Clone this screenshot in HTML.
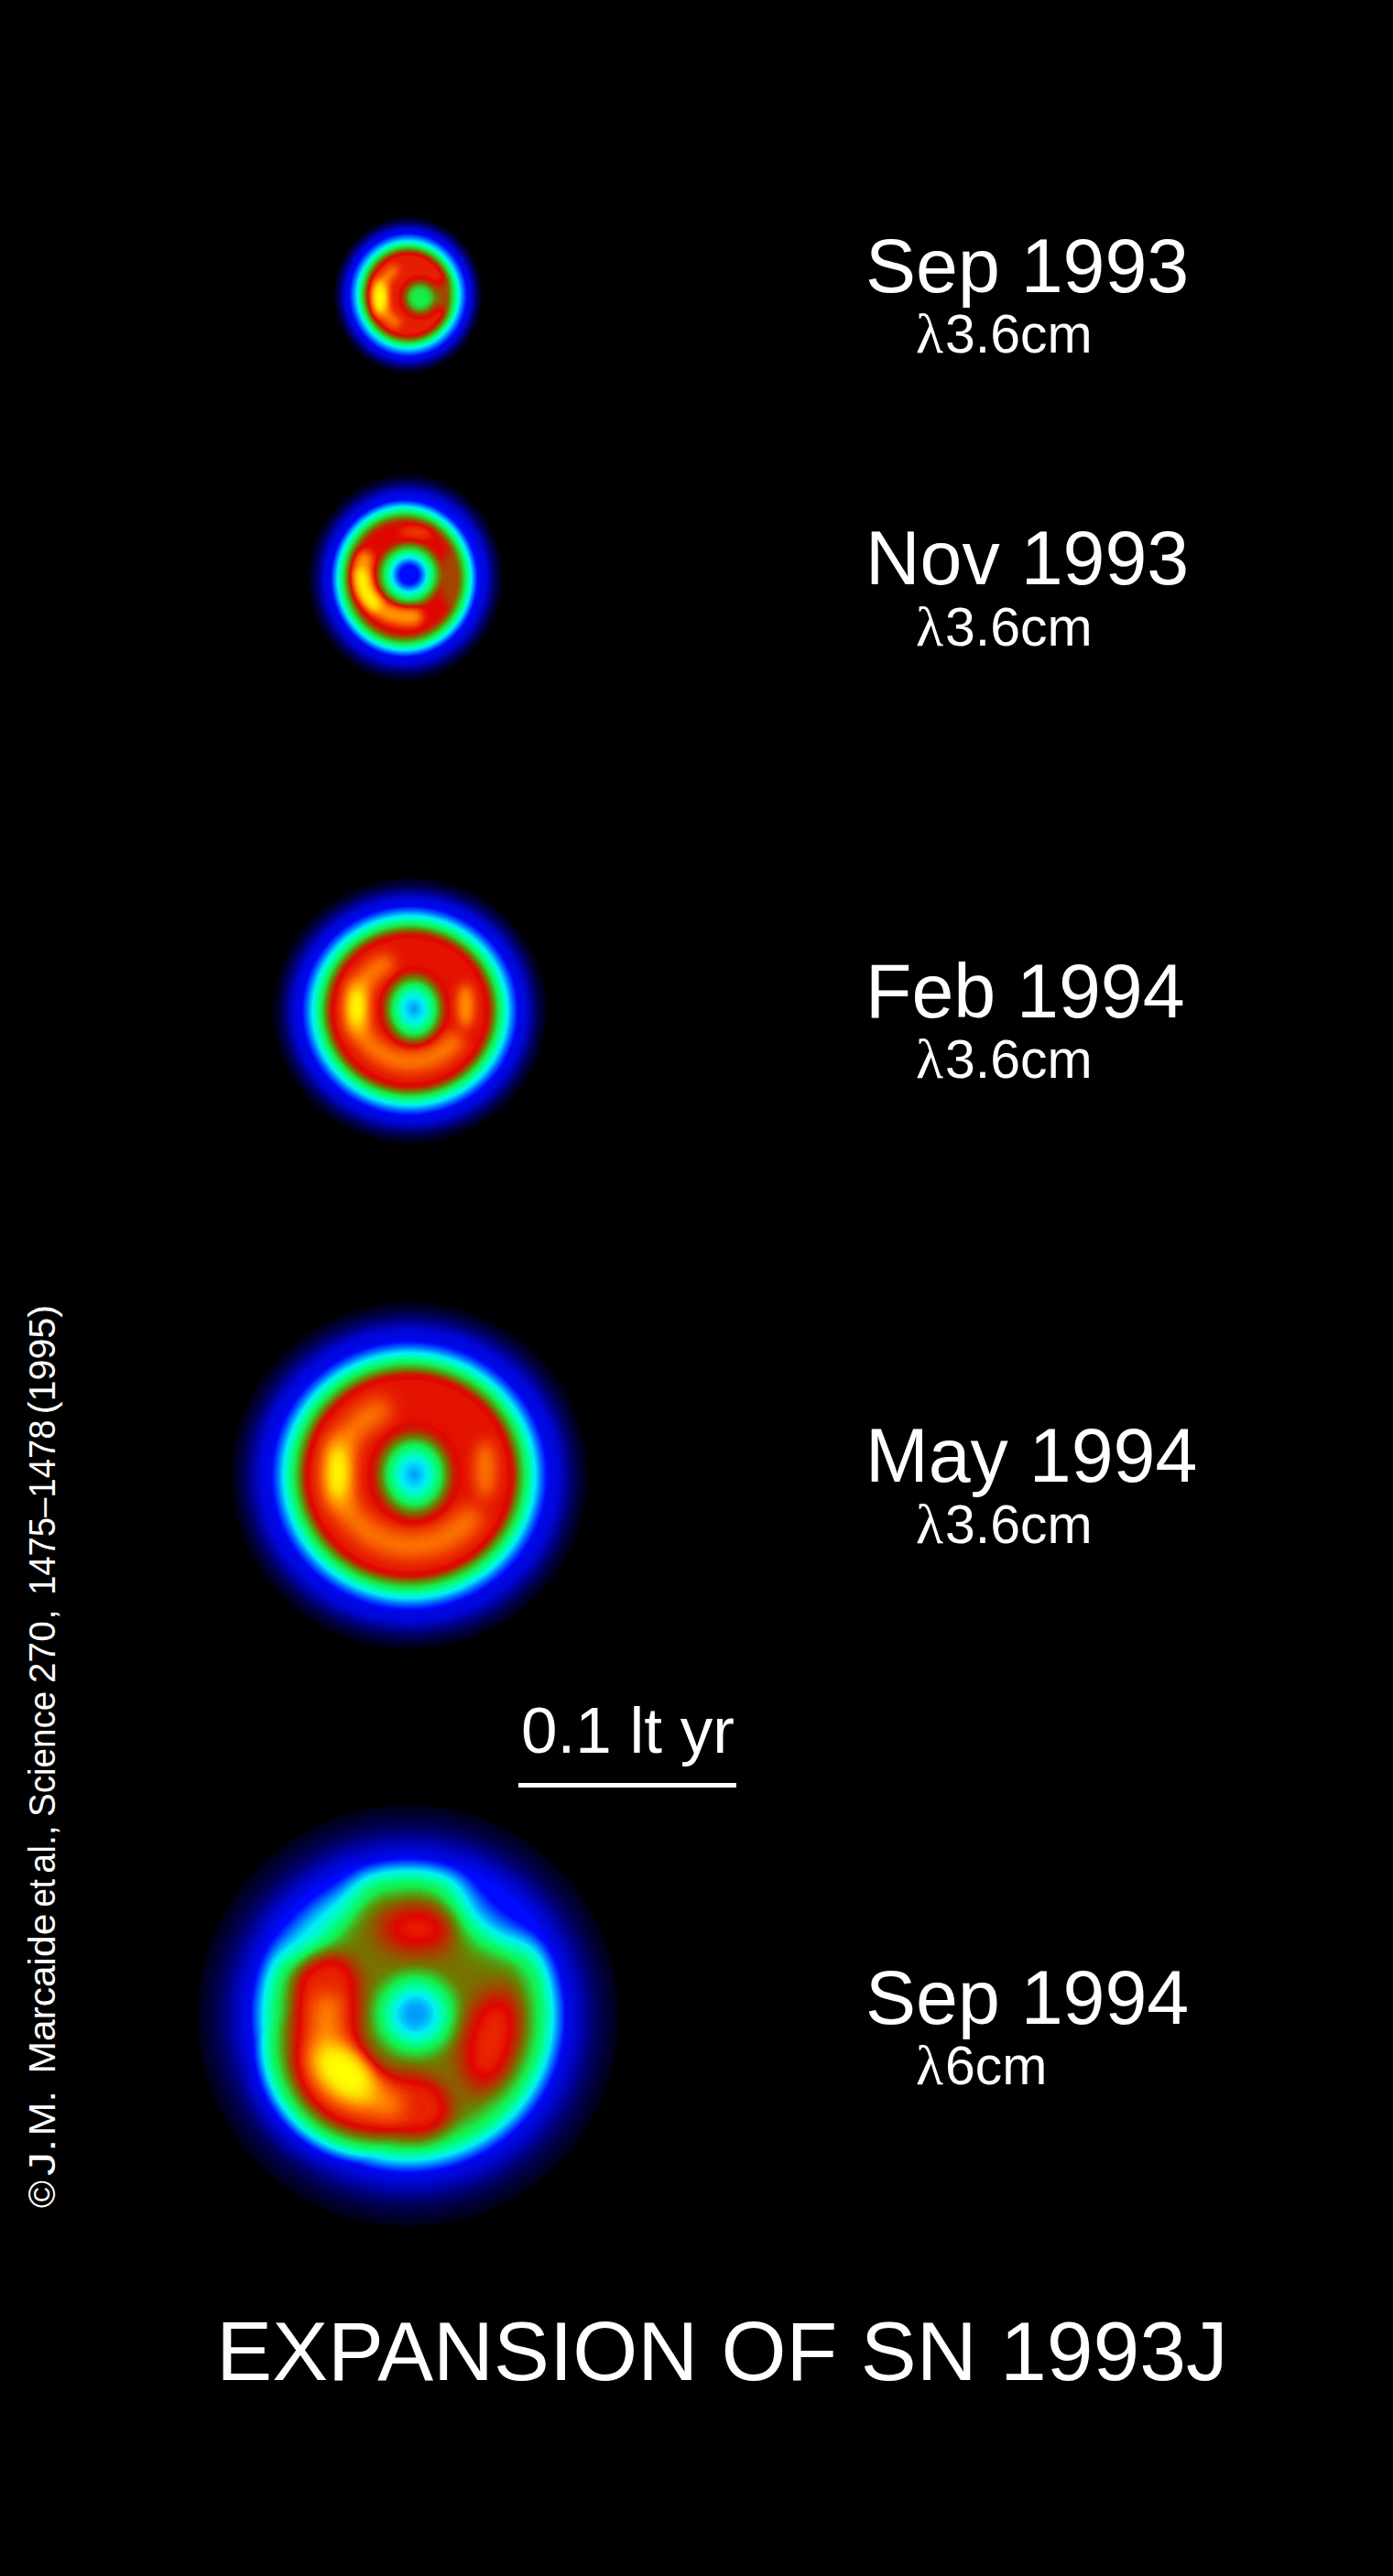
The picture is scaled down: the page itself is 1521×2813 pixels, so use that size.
<!DOCTYPE html>
<html lang="en"><head><meta charset="utf-8"><title>Expansion of SN 1993J</title>
<style>
html,body{margin:0;padding:0;background:#000;}
body{width:1521px;height:2813px;overflow:hidden;}
svg{display:block;}
text{font-family:"Liberation Sans",Arial,Helvetica,sans-serif;fill:#fff;}
.d{font-size:82.5px;}
.l{font-size:59px;}
.lam{font-family:"Liberation Serif","DejaVu Serif",serif;font-size:62px;}
.s{font-size:71px;}
.t{font-size:91.3px;}
.c{font-size:40px;}
</style></head>
<body>
<svg width="1521" height="2813" viewBox="0 0 1521 2813">
<defs>
<filter id="cm" filterUnits="userSpaceOnUse" x="150" y="180" width="600" height="2320" color-interpolation-filters="sRGB">
<feComponentTransfer>
<feFuncR type="table" tableValues="0 0 0 0 0 0 .08 .42 .88 1 1"/>
<feFuncG type="table" tableValues="0 0 .04 .5 .94 1 .94 .5 .02 .5 1"/>
<feFuncB type="table" tableValues="0 .5 1 1 .96 .62 .3 0 0 0 0"/>
</feComponentTransfer>
</filter>
<filter id="b2" x="-100%" y="-100%" width="300%" height="300%" color-interpolation-filters="sRGB"><feGaussianBlur stdDeviation="2"/></filter>
<filter id="b3" x="-100%" y="-100%" width="300%" height="300%" color-interpolation-filters="sRGB"><feGaussianBlur stdDeviation="3"/></filter>
<filter id="b4" x="-100%" y="-100%" width="300%" height="300%" color-interpolation-filters="sRGB"><feGaussianBlur stdDeviation="4"/></filter>
<filter id="b5" x="-100%" y="-100%" width="300%" height="300%" color-interpolation-filters="sRGB"><feGaussianBlur stdDeviation="5"/></filter>
<filter id="b6" x="-100%" y="-100%" width="300%" height="300%" color-interpolation-filters="sRGB"><feGaussianBlur stdDeviation="6"/></filter>
<filter id="b8" x="-100%" y="-100%" width="300%" height="300%" color-interpolation-filters="sRGB"><feGaussianBlur stdDeviation="8"/></filter>
<filter id="b10" x="-100%" y="-100%" width="300%" height="300%" color-interpolation-filters="sRGB"><feGaussianBlur stdDeviation="10"/></filter>
<filter id="b12" x="-100%" y="-100%" width="300%" height="300%" color-interpolation-filters="sRGB"><feGaussianBlur stdDeviation="12"/></filter>
<filter id="b14" x="-100%" y="-100%" width="300%" height="300%" color-interpolation-filters="sRGB"><feGaussianBlur stdDeviation="14"/></filter>
<filter id="b18" x="-100%" y="-100%" width="300%" height="300%" color-interpolation-filters="sRGB"><feGaussianBlur stdDeviation="18"/></filter>
<radialGradient id="g1" gradientUnits="userSpaceOnUse" cx="0" cy="0" r="86" ><stop offset="0.0000" stop-color="#d1d1d1"/><stop offset="0.4651" stop-color="#d1d1d1"/><stop offset="0.5116" stop-color="#c7c7c7"/><stop offset="0.5442" stop-color="#b2b2b2"/><stop offset="0.5907" stop-color="#999999"/><stop offset="0.6477" stop-color="#666666"/><stop offset="0.6977" stop-color="#4a4a4a"/><stop offset="0.7442" stop-color="#333333"/><stop offset="0.7547" stop-color="#2e2e2e"/><stop offset="0.7965" stop-color="#2c2c2c"/><stop offset="0.8195" stop-color="#252525"/><stop offset="0.8426" stop-color="#1e1e1e"/><stop offset="0.8698" stop-color="#141414"/><stop offset="0.8991" stop-color="#0c0c0c"/><stop offset="0.9326" stop-color="#050505"/><stop offset="0.9535" stop-color="#000000"/></radialGradient>
<radialGradient id="h1" gradientUnits="userSpaceOnUse" cx="0" cy="0" r="30"><stop offset="0.0000" stop-color="#999999" stop-opacity="1"/><stop offset="0.2667" stop-color="#9a9a9a" stop-opacity="1"/><stop offset="0.4333" stop-color="#a8a8a8" stop-opacity="1"/><stop offset="0.5667" stop-color="#bdbdbd" stop-opacity="1"/><stop offset="0.7333" stop-color="#cccccc" stop-opacity="1"/><stop offset="0.8667" stop-color="#d1d1d1" stop-opacity="1"/><stop offset="1.0000" stop-color="#d1d1d1" stop-opacity="0"/></radialGradient>
<radialGradient id="g2" gradientUnits="userSpaceOnUse" cx="0" cy="0" r="110" ><stop offset="0.0000" stop-color="#cccccc"/><stop offset="0.4727" stop-color="#cccccc"/><stop offset="0.5227" stop-color="#c7c7c7"/><stop offset="0.5636" stop-color="#b2b2b2"/><stop offset="0.6091" stop-color="#999999"/><stop offset="0.6636" stop-color="#666666"/><stop offset="0.6973" stop-color="#4a4a4a"/><stop offset="0.7273" stop-color="#333333"/><stop offset="0.7391" stop-color="#2e2e2e"/><stop offset="0.7864" stop-color="#2c2c2c"/><stop offset="0.8124" stop-color="#252525"/><stop offset="0.8384" stop-color="#1e1e1e"/><stop offset="0.8691" stop-color="#141414"/><stop offset="0.9022" stop-color="#0c0c0c"/><stop offset="0.9400" stop-color="#050505"/><stop offset="0.9636" stop-color="#000000"/></radialGradient>
<radialGradient id="g2h" gradientUnits="userSpaceOnUse" cx="0" cy="0" r="110" ><stop offset="0.0000" stop-color="#333333"/><stop offset="0.7273" stop-color="#333333"/><stop offset="0.7391" stop-color="#2e2e2e"/><stop offset="0.7864" stop-color="#2c2c2c"/><stop offset="0.8124" stop-color="#252525"/><stop offset="0.8384" stop-color="#1e1e1e"/><stop offset="0.8691" stop-color="#141414"/><stop offset="0.9022" stop-color="#0c0c0c"/><stop offset="0.9400" stop-color="#050505"/><stop offset="0.9636" stop-color="#000000"/></radialGradient>
<radialGradient id="h2" gradientUnits="userSpaceOnUse" cx="0" cy="0" r="46"><stop offset="0.0000" stop-color="#2b2b2b" stop-opacity="1"/><stop offset="0.1304" stop-color="#2e2e2e" stop-opacity="1"/><stop offset="0.2174" stop-color="#333333" stop-opacity="1"/><stop offset="0.3043" stop-color="#474747" stop-opacity="1"/><stop offset="0.4130" stop-color="#666666" stop-opacity="1"/><stop offset="0.5826" stop-color="#999999" stop-opacity="1"/><stop offset="0.7065" stop-color="#b2b2b2" stop-opacity="1"/><stop offset="0.8043" stop-color="#c7c7c7" stop-opacity="1"/><stop offset="0.9130" stop-color="#cccccc" stop-opacity="1"/><stop offset="1.0000" stop-color="#cccccc" stop-opacity="0"/></radialGradient>
<radialGradient id="g3" gradientUnits="userSpaceOnUse" cx="0" cy="0" r="152" ><stop offset="0.0000" stop-color="#cfcfcf"/><stop offset="0.5263" stop-color="#cfcfcf"/><stop offset="0.5691" stop-color="#c8c8c8"/><stop offset="0.6020" stop-color="#b2b2b2"/><stop offset="0.6382" stop-color="#999999"/><stop offset="0.7007" stop-color="#666666"/><stop offset="0.7368" stop-color="#4a4a4a"/><stop offset="0.7730" stop-color="#333333"/><stop offset="0.7840" stop-color="#2e2e2e"/><stop offset="0.8281" stop-color="#2c2c2c"/><stop offset="0.8524" stop-color="#252525"/><stop offset="0.8766" stop-color="#1e1e1e"/><stop offset="0.9053" stop-color="#141414"/><stop offset="0.9361" stop-color="#0c0c0c"/><stop offset="0.9714" stop-color="#050505"/><stop offset="0.9934" stop-color="#000000"/></radialGradient>
<radialGradient id="h3" gradientUnits="userSpaceOnUse" cx="0" cy="0" r="52"><stop offset="0.0000" stop-color="#525252" stop-opacity="1"/><stop offset="0.2212" stop-color="#666666" stop-opacity="1"/><stop offset="0.4423" stop-color="#999999" stop-opacity="1"/><stop offset="0.5519" stop-color="#b2b2b2" stop-opacity="1"/><stop offset="0.6538" stop-color="#c6c6c6" stop-opacity="1"/><stop offset="0.7692" stop-color="#cecece" stop-opacity="1"/><stop offset="1.0000" stop-color="#cfcfcf" stop-opacity="0"/></radialGradient>
<radialGradient id="g4" gradientUnits="userSpaceOnUse" cx="0" cy="0" r="198" ><stop offset="0.0000" stop-color="#cfcfcf"/><stop offset="0.5354" stop-color="#cfcfcf"/><stop offset="0.5732" stop-color="#c8c8c8"/><stop offset="0.5997" stop-color="#b2b2b2"/><stop offset="0.6364" stop-color="#999999"/><stop offset="0.6932" stop-color="#666666"/><stop offset="0.7247" stop-color="#4a4a4a"/><stop offset="0.7576" stop-color="#333333"/><stop offset="0.7694" stop-color="#2e2e2e"/><stop offset="0.8169" stop-color="#2c2c2c"/><stop offset="0.8430" stop-color="#252525"/><stop offset="0.8691" stop-color="#1e1e1e"/><stop offset="0.9000" stop-color="#141414"/><stop offset="0.9332" stop-color="#0c0c0c"/><stop offset="0.9712" stop-color="#050505"/><stop offset="0.9949" stop-color="#000000"/></radialGradient>
<radialGradient id="h4" gradientUnits="userSpaceOnUse" cx="0" cy="0" r="66"><stop offset="0.0000" stop-color="#525252" stop-opacity="1"/><stop offset="0.2121" stop-color="#666666" stop-opacity="1"/><stop offset="0.4394" stop-color="#999999" stop-opacity="1"/><stop offset="0.5455" stop-color="#b2b2b2" stop-opacity="1"/><stop offset="0.6515" stop-color="#c6c6c6" stop-opacity="1"/><stop offset="0.7879" stop-color="#cecece" stop-opacity="1"/><stop offset="1.0000" stop-color="#cfcfcf" stop-opacity="0"/></radialGradient>
<radialGradient id="g5" gradientUnits="userSpaceOnUse" cx="0" cy="0" r="232" ><stop offset="0.0000" stop-color="#b5b5b5"/><stop offset="0.4828" stop-color="#b5b5b5"/><stop offset="0.5345" stop-color="#b0b0b0"/><stop offset="0.5776" stop-color="#a3a3a3"/><stop offset="0.6207" stop-color="#949494"/><stop offset="0.6509" stop-color="#808080"/><stop offset="0.6810" stop-color="#666666"/><stop offset="0.7112" stop-color="#4a4a4a"/><stop offset="0.7392" stop-color="#333333"/><stop offset="0.7495" stop-color="#2e2e2e"/><stop offset="0.7759" stop-color="#2c2c2c"/><stop offset="0.8018" stop-color="#262626"/><stop offset="0.8385" stop-color="#1e1e1e"/><stop offset="0.8685" stop-color="#161616"/><stop offset="0.9136" stop-color="#0e0e0e"/><stop offset="0.9506" stop-color="#090909"/><stop offset="0.9867" stop-color="#050505"/><stop offset="0.9957" stop-color="#000000"/></radialGradient>
<radialGradient id="g5h" gradientUnits="userSpaceOnUse" cx="0" cy="0" r="232" ><stop offset="0.0000" stop-color="#333333"/><stop offset="0.7392" stop-color="#333333"/><stop offset="0.7495" stop-color="#2e2e2e"/><stop offset="0.7759" stop-color="#2c2c2c"/><stop offset="0.8018" stop-color="#262626"/><stop offset="0.8385" stop-color="#1e1e1e"/><stop offset="0.8685" stop-color="#161616"/><stop offset="0.9136" stop-color="#0e0e0e"/><stop offset="0.9506" stop-color="#090909"/><stop offset="0.9867" stop-color="#050505"/><stop offset="0.9957" stop-color="#000000"/></radialGradient>
<radialGradient id="h5" gradientUnits="userSpaceOnUse" cx="0" cy="0" r="80"><stop offset="0.0000" stop-color="#525252" stop-opacity="1"/><stop offset="0.1125" stop-color="#555555" stop-opacity="1"/><stop offset="0.2000" stop-color="#5d5d5d" stop-opacity="1"/><stop offset="0.2625" stop-color="#666666" stop-opacity="1"/><stop offset="0.3875" stop-color="#808080" stop-opacity="1"/><stop offset="0.5000" stop-color="#999999" stop-opacity="1"/><stop offset="0.6000" stop-color="#a8a8a8" stop-opacity="1"/><stop offset="0.6875" stop-color="#b2b2b2" stop-opacity="1"/><stop offset="0.8000" stop-color="#b5b5b5" stop-opacity="0.6"/><stop offset="1.0000" stop-color="#b5b5b5" stop-opacity="0"/></radialGradient>
</defs>
<rect width="1521" height="2813" fill="#000"/>
<g filter="url(#cm)">
<rect x="150" y="180" width="600" height="2320" fill="#000"/>
<g transform="translate(445.7 322) scale(1 1.05)"><circle r="86" fill="url(#g1)"/></g>
<g transform="translate(459 325)"><circle r="30" fill="url(#h1)"/></g>
<ellipse cx="485" cy="323" rx="9" ry="16" fill="#000" opacity=".09" filter="url(#b4)"/>
<path d="M430.1 295.0 A 30 33 0 0 0 432.4 352.4" fill="none" stroke="#fff" stroke-width="10" stroke-linecap="round" opacity=".5" filter="url(#b4)"/>
<ellipse cx="414.8" cy="325" rx="7" ry="21" fill="#fff" opacity=".8" filter="url(#b5)"/>
<ellipse cx="414.8" cy="325" rx="6" ry="14" fill="#fff" opacity=".95" filter="url(#b3)"/>
<g transform="translate(444 630) scale(1 1.07)"><circle r="110" fill="url(#g2h)"/></g>
<g style="mix-blend-mode:lighten">
<g transform="translate(441.5 631.6) scale(1 1.07)"><circle r="110" fill="url(#g2)"/></g>
<g transform="translate(446.8 627.6)"><circle r="46" fill="url(#h2)"/></g>
<ellipse cx="491" cy="632" rx="8" ry="30" fill="#000" opacity=".07" filter="url(#b5)"/>
<ellipse cx="455" cy="581" rx="18" ry="6" fill="#fff" opacity=".25" filter="url(#b5)"/>
<path d="M398.0 610.9 A 50 47 0 0 0 452.0 673.5" fill="none" stroke="#fff" stroke-width="18" stroke-linecap="round" opacity=".6" filter="url(#b5)"/>
<path d="M395.0 627.8 A 50 47 0 0 0 409.0 659.6" fill="none" stroke="#fff" stroke-width="14" stroke-linecap="round" opacity=".95" filter="url(#b4)"/>
</g>
<g transform="translate(447.7 1103.6) scale(1 .97)"><circle r="152" fill="url(#g3)"/></g>
<g transform="translate(452 1101.8) scale(1 1.18)"><circle r="52" fill="url(#h3)"/></g>
<path d="M420.3 1052.2 A 60 57 0 1 0 495.8 1137.6" fill="none" stroke="#fff" stroke-width="20" stroke-linecap="round" opacity=".5" filter="url(#b8)"/>
<ellipse cx="389.5" cy="1100" rx="9" ry="30" fill="#fff" opacity=".9" filter="url(#b8)"/>
<ellipse cx="389.5" cy="1100" rx="7" ry="17" fill="#fff" opacity=".95" filter="url(#b5)"/>
<ellipse cx="508.5" cy="1098.5" rx="8" ry="24" fill="#fff" opacity=".62" filter="url(#b6)"/>
<g transform="translate(447 1611.3) scale(1 .975)"><circle r="198" fill="url(#g4)"/></g>
<g transform="translate(452.3 1610.3) scale(1 1.13)"><circle r="66" fill="url(#h4)"/></g>
<path d="M414.0 1539.9 A 81 78 0 1 0 513.3 1658.0" fill="none" stroke="#fff" stroke-width="26" stroke-linecap="round" opacity=".48" filter="url(#b10)"/>
<ellipse cx="369" cy="1608" rx="11" ry="40" fill="#fff" opacity=".9" filter="url(#b10)"/>
<ellipse cx="369" cy="1608" rx="8" ry="24" fill="#fff" opacity=".95" filter="url(#b6)"/>
<ellipse cx="530" cy="1605" rx="10" ry="32" fill="#fff" opacity=".5" filter="url(#b8)"/>
<g transform="translate(445.5 2201)"><circle r="232" fill="url(#g5h)"/></g>
<g style="mix-blend-mode:lighten">
<g transform="translate(445.5 2201)"><circle r="232" fill="url(#g5)"/></g>
<g transform="translate(410.5 2231) scale(.78)" style="mix-blend-mode:lighten"><circle r="232" fill="url(#g5)"/></g>
<g transform="translate(454 2199.5)"><circle r="80" fill="url(#h5)"/></g>
<ellipse cx="547" cy="2082" rx="36" ry="52" fill="#000" opacity=".58" filter="url(#b18)" transform="rotate(-50 547 2082)"/>
<ellipse cx="345" cy="2090" rx="30" ry="60" fill="#000" opacity=".34" filter="url(#b14)" transform="rotate(40 345 2090)"/>
<ellipse cx="456" cy="2106" rx="42" ry="25" fill="#fff" opacity=".4" filter="url(#b14)"/>
<ellipse cx="536" cy="2228" rx="29" ry="56" fill="#fff" opacity=".42" filter="url(#b14)" transform="rotate(14 536 2228)"/>
<path d="M356 2168 L356 2250 Q 358 2284 400 2296 L 456 2303" fill="none" stroke="#fff" stroke-width="72" stroke-linecap="round" stroke-linejoin="round" opacity=".4" filter="url(#b10)"/>
<path d="M357 2190 C 356 2215, 354 2240, 362 2254 S 395 2290, 428 2299" fill="none" stroke="#fff" stroke-width="26" stroke-linecap="round" opacity=".5" filter="url(#b10)"/>
<ellipse cx="376" cy="2264" rx="44" ry="27" fill="#fff" opacity=".7" filter="url(#b12)" transform="rotate(42 376 2264)"/>
<ellipse cx="376" cy="2263.6" rx="31" ry="19" fill="#fff" opacity="1" filter="url(#b8)" transform="rotate(42 376 2263.6)"/>
</g>
</g>
<text class="d" x="945" y="319">Sep 1993</text>
<text class="l" y="385"><tspan class="lam" x="1000">λ</tspan><tspan x="1032">3.6cm</tspan></text>
<text class="d" x="945" y="638">Nov 1993</text>
<text class="l" y="705"><tspan class="lam" x="1000">λ</tspan><tspan x="1032">3.6cm</tspan></text>
<text class="d" x="945" y="1110.7">Feb 1994</text>
<text class="l" y="1176.5"><tspan class="lam" x="1000">λ</tspan><tspan x="1032">3.6cm</tspan></text>
<text class="d" x="945" y="1618.3">May 1994</text>
<text class="l" y="1684.5"><tspan class="lam" x="1000">λ</tspan><tspan x="1032">3.6cm</tspan></text>
<text class="d" x="945" y="2210">Sep 1994</text>
<text class="l" y="2275.5"><tspan class="lam" x="1000">λ</tspan><tspan x="1032">6cm</tspan></text>
<text class="s" x="569" y="1914">0.1 lt yr</text>
<rect x="566" y="1947" width="238" height="5" fill="#fff"/>
<text class="t" x="236.3" y="2598.5">EXPANSION OF SN 1993J</text>
<text class="c" transform="translate(59.6 2410.91) rotate(-90) scale(1.0177 1)" x="0" y="0">©</text>
<text class="c" transform="translate(59.6 2376.08) rotate(-90) scale(1.3011 1)" x="0" y="0">J.</text>
<text class="c" transform="translate(59.6 2332.55) rotate(-90) scale(1.1090 1)" x="0" y="0">M.</text>
<text class="c" transform="translate(59.6 2264.50) rotate(-90) scale(1.0633 1)" x="0" y="0">Marcaide</text>
<text class="c" transform="translate(59.6 2082.55) rotate(-90) scale(0.9140 1)" x="0" y="0">et</text>
<text class="c" transform="translate(59.6 2045.67) rotate(-90) scale(0.9834 1)" x="0" y="0">al.,</text>
<text class="c" transform="translate(59.6 1984.04) rotate(-90) scale(0.9654 1)" x="0" y="0">Science</text>
<text class="c" transform="translate(59.6 1838.03) rotate(-90) scale(1.0158 1)" x="0" y="0">270</text>
<text class="c" transform="translate(59.6 1768.40) rotate(-90) scale(1.0000 1)" x="0" y="0">,</text>
<text class="c" transform="translate(59.6 1742.07) rotate(-90) scale(0.9571 1)" x="0" y="0">1475–1478</text>
<text class="c" transform="translate(59.6 1544.17) rotate(-90) scale(1.0307 1)" x="0" y="0">(1995)</text>
</svg>
</body></html>
